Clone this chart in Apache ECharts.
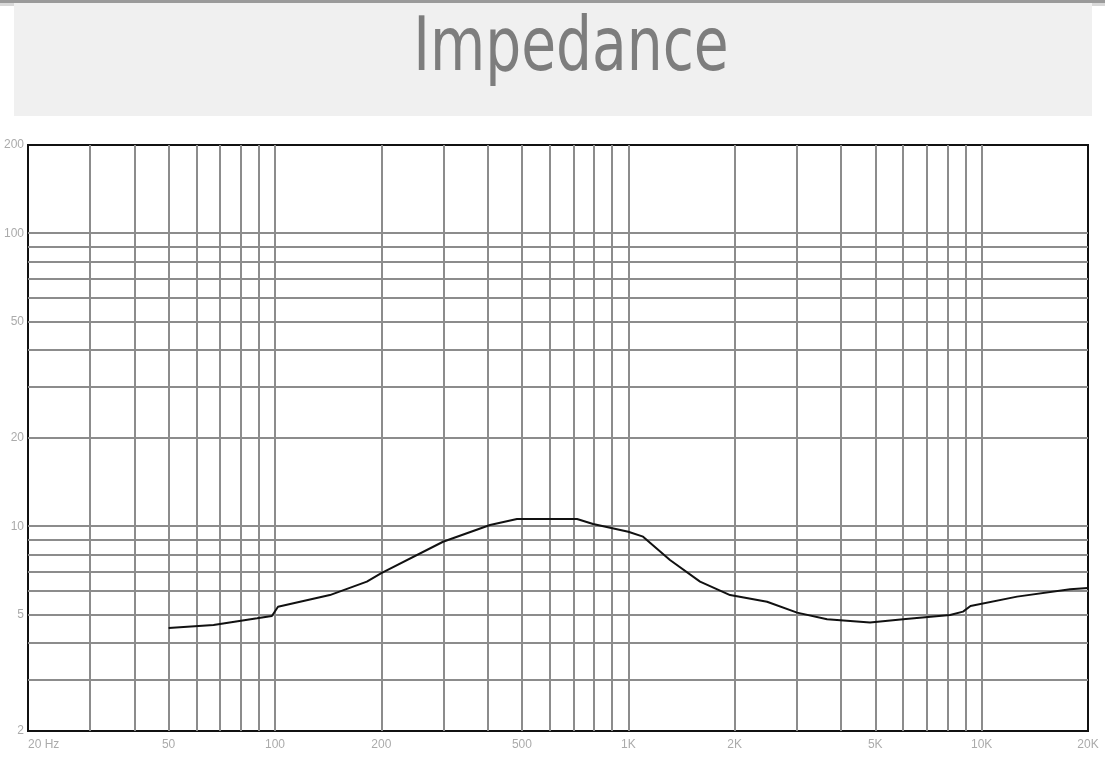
<!DOCTYPE html>
<html>
<head>
<meta charset="utf-8">
<script src="https://cdn.jsdelivr.net/npm/echarts@6/dist/echarts.min.js"></script>
<style>
html,body{margin:0;padding:0;background:#fff;}
#c{width:1105px;height:769px;}
</style>
</head>
<body>
<div id="c"></div>
<script>
const titleText = 'Impedance';
const freq = [50, 67, 89, 98, 102, 143, 182, 200, 299, 406, 484, 600, 716, 795, 1000, 1101, 1312, 1596, 1941, 2470, 3004, 3652, 4832, 5994, 8140, 8860, 9300, 12600, 17800, 20000];
const impedance = [4.49, 4.60, 4.85, 4.94, 5.31, 5.82, 6.47, 6.92, 8.85, 10.1, 10.58, 10.58, 10.58, 10.18, 9.57, 9.21, 7.67, 6.47, 5.82, 5.52, 5.07, 4.81, 4.69, 4.81, 4.98, 5.11, 5.34, 5.75, 6.09, 6.15];
const xGrid = [30, 40, 50, 60, 70, 80, 90, 100, 200, 300, 400, 500, 600, 700, 800, 900, 1000, 2000, 3000, 4000, 5000, 6000, 7000, 8000, 9000, 10000];
const yGrid = [3, 4, 5, 6, 7, 8, 9, 10, 20, 30, 40, 50, 60, 70, 80, 90, 100];
const xLabels = [20, 50, 100, 200, 500, 1000, 2000, 5000, 10000, 20000];
const xLabelText = ['20 Hz', '50', '100', '200', '500', '1K', '2K', '5K', '10K', '20K'];
const yLabels = [2, 5, 10, 20, 50, 100, 200];

const chart = echarts.init(document.getElementById('c'), null, {renderer: 'canvas'});
const gridLine = {show: true, lineStyle: {color: '#8c8c8c', width: 2, type: 'solid'}};
const labelStyle = {color: '#ababab', fontSize: 12, fontFamily: 'Liberation Sans, sans-serif'};
chart.setOption({
  animation: false,
  backgroundColor: '#ffffff',
  graphic: [
    {type: 'rect', shape: {x: 0, y: 0, width: 1105, height: 3}, style: {fill: '#9a9a9a'}, z: -10},
    {type: 'rect', shape: {x: 0, y: 3, width: 1105, height: 3}, style: {fill: '#d8d8d8'}, z: -10},
    {type: 'rect', shape: {x: 14, y: 3, width: 1078, height: 113}, style: {fill: '#f0f0f0'}, z: -9},
    {type: 'text', x: 571, y: 13, scaleX: 0.84, z: 10,
      style: {text: titleText, align: 'center', verticalAlign: 'top', fill: '#7d7d7d',
        font: 'normal 75px "DejaVu Sans Condensed", "DejaVu Sans", sans-serif'}}
  ],
  grid: {left: 28, top: 145, width: 1060, height: 586, show: true, borderColor: '#111', borderWidth: 2, backgroundColor: 'transparent'},
  xAxis: {
    type: 'log', logBase: 10, min: 20, max: 20000,
    axisLine: {show: false},
    axisTick: {show: false, customValues: xGrid},
    splitLine: gridLine,
    axisLabel: Object.assign({
      customValues: xLabels,
      margin: 8,
      alignMinLabel: 'left',
      formatter: function (v) { const i = xLabels.indexOf(Math.round(v)); return i >= 0 ? xLabelText[i] : ''; }
    }, labelStyle)
  },
  yAxis: {
    type: 'log', logBase: 10, min: 2, max: 200,
    axisLine: {show: false},
    axisTick: {show: false, customValues: yGrid},
    splitLine: gridLine,
    axisLabel: Object.assign({customValues: yLabels, margin: 4}, labelStyle)
  },
  series: [{
    type: 'line',
    data: freq.map((f, i) => [f, impedance[i]]),
    showSymbol: false,
    smooth: false,
    lineStyle: {color: '#111', width: 2},
    z: 5
  }]
});
</script>
</body>
</html>
